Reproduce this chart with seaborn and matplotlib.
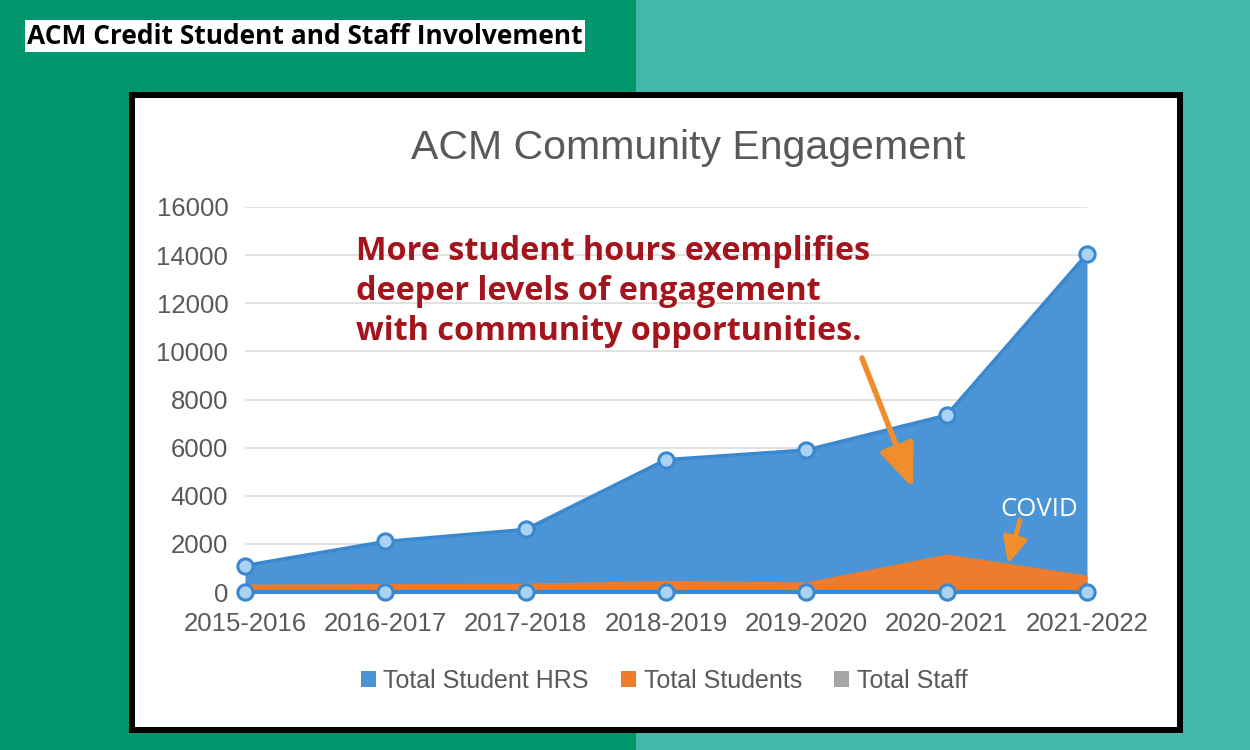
import matplotlib
matplotlib.use("Agg")
import matplotlib.pyplot as plt
import seaborn as sns
import numpy as np
import pandas as pd
from matplotlib.patches import Rectangle, Patch

# ---------------- data ----------------
years = ["2015-2016", "2016-2017", "2017-2018", "2018-2019",
         "2019-2020", "2020-2021", "2021-2022"]
student_hrs = [1100, 2100, 2600, 5500, 5900, 7350, 14050]
total_students = [330, 350, 370, 480, 420, 1580, 700]
total_staff = [20, 20, 20, 25, 25, 30, 30]
baseline = [0, 0, 0, 0, 0, 0, 0]
yticks = [0, 2000, 4000, 6000, 8000, 10000, 12000, 14000, 16000]

page_title = "ACM Credit Student and Staff Involvement"
chart_title = "ACM Community Engagement"
note_lines = ["More student hours exemplifies",
              "deeper levels of engagement",
              "with community opportunities."]
covid_label = "COVID"
legend_labels = ["Total Student HRS", "Total Students", "Total Staff"]

# ---------------- style ----------------
sns.set_theme(style="white")
plt.rcParams['font.family'] = ['Liberation Sans', 'DejaVu Sans']

BLUE = "#4b94d5"
BLUE_EDGE = "#3a88cf"
ORANGE = "#ef7c2c"
GRAY = "#a6a6a6"
ARROW = "#f08e2c"
TEXT_GRAY = "#595959"
RED = "#a3141c"

W, H = 1250, 750
fig = plt.figure(figsize=(12.5, 7.5), dpi=100)
fig.patch.set_facecolor("#00966b")

# background overlay axes in pixel coords
bg = fig.add_axes([0, 0, 1, 1], zorder=0)
bg.set_xlim(0, W)
bg.set_ylim(H, 0)
bg.axis("off")
bg.add_patch(Rectangle((636, 0), W - 636, H, facecolor="#45b8ae", edgecolor="none"))
bg.add_patch(Rectangle((129, 92), 1183 - 129, 733 - 92, facecolor="black", edgecolor="none"))
bg.add_patch(Rectangle((135, 98), 1177 - 135, 727 - 98, facecolor="white", edgecolor="none"))
bg.text(27, 36, page_title, fontsize=19, fontweight="bold", family=["Open Sans", "DejaVu Sans"],
        color="black", va="center", ha="left",
        bbox=dict(facecolor="white", edgecolor="none", pad=1.5))
bg.text(688, 148, chart_title, fontsize=29.5, color=TEXT_GRAY, ha="center", va="center")

# ---------------- chart axes ----------------
left, right = 245 / W, 1087 / W
bottom, top = 1 - 592 / H, 1 - 207 / H
ax = fig.add_axes([left, bottom, right - left, top - bottom], zorder=2)
ax.patch.set_alpha(0)

df = pd.DataFrame({"year": years, "x": np.arange(len(years)),
                   "hrs": student_hrs, "students": total_students,
                   "staff": total_staff, "base": baseline})

ax.set_ylim(0, 16000)
ax.set_xlim(0, len(years) - 1)
ax.set_yticks(yticks)
ax.grid(axis="y", color="#dcdcdc", lw=1.2, zorder=0)
ax.grid(axis="x", visible=False)
for s in ax.spines.values():
    s.set_visible(False)

ax.fill_between(df["x"], df["staff"], color=GRAY, lw=0, zorder=1)
ax.fill_between(df["x"], df["hrs"], color=BLUE, lw=0, zorder=2)
ax.fill_between(df["x"], df["students"], color=ORANGE, lw=0, zorder=3)

mk = dict(marker="o", markersize=11, markerfacecolor="#a9d2f3",
          markeredgecolor=BLUE_EDGE, markeredgewidth=2.2, clip_on=False)
sns.lineplot(data=df, x="x", y="hrs", ax=ax, color=BLUE_EDGE, lw=2.5, zorder=4, **mk)
sns.lineplot(data=df, x="x", y="base", ax=ax, color=BLUE_EDGE, lw=3, zorder=4, **mk)
for ln in ax.lines:
    ln.set_clip_on(False)

ax.set_xticks(df["x"])
ax.set_xticklabels(years)
ax.set_xlabel("")
ax.set_ylabel("")
ax.tick_params(axis="both", labelsize=18.5, colors=TEXT_GRAY, length=0)
ax.tick_params(axis="x", pad=14.5)
ax.tick_params(axis="y", pad=12)

# legend
handles = [Patch(facecolor=c, edgecolor="none") for c in (BLUE, ORANGE, GRAY)]
fig.legend(handles, legend_labels, loc="center", bbox_to_anchor=(664 / W, 1 - 681 / H),
           ncol=3, frameon=False, fontsize=18, handlelength=0.6, handleheight=0.6,
           handletextpad=0.3, columnspacing=1.3, labelcolor=TEXT_GRAY)

# annotations (pixel coordinate overlay on top)
ov = fig.add_axes([0, 0, 1, 1], zorder=5)
ov.set_xlim(0, W)
ov.set_ylim(H, 0)
ov.axis("off")
ov.patch.set_alpha(0)
for i, line in enumerate(note_lines):
    ov.text(356, 251 + i * 40, line, fontsize=23.3, fontweight="bold",
            family=["Open Sans", "DejaVu Sans"], color=RED, ha="left", va="center")
ov.annotate("", xy=(913, 488), xytext=(862, 358),
            arrowprops=dict(arrowstyle="-|>,head_length=2.2,head_width=0.9",
                            color=ARROW, lw=4, shrinkA=0, shrinkB=0))
ov.text(1039, 509, covid_label, fontsize=18.5, color="white",
        family=["Open Sans", "DejaVu Sans"], ha="center", va="center")
ov.annotate("", xy=(1008, 564), xytext=(1020, 520),
            arrowprops=dict(arrowstyle="-|>,head_length=1.3,head_width=0.6",
                            color=ARROW, lw=3.5, shrinkA=0, shrinkB=0))

fig.savefig("out.png", dpi=100, facecolor=fig.get_facecolor())
